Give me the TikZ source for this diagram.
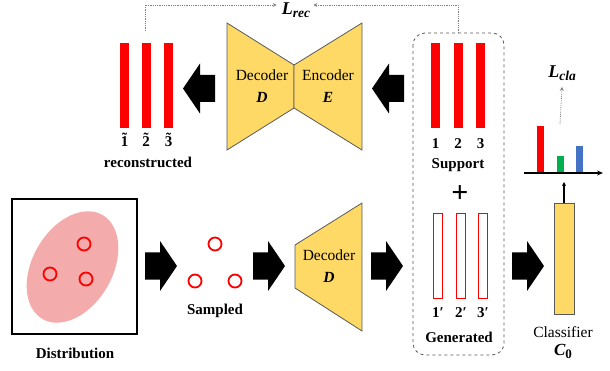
\documentclass[tikz,border=0pt]{standalone}
\usepackage{fontspec}
\setmainfont{Liberation Serif}
\usetikzlibrary{arrows.meta}
\definecolor{myyellow}{HTML}{FFD966}
\definecolor{edgegray}{HTML}{595959}
\definecolor{pinkfill}{HTML}{F4ABAB}
\definecolor{mygreen}{HTML}{00B050}
\definecolor{myblue}{HTML}{4472C4}
\newcommand{\losslabel}[2]{{\fontsize{18}{18}\selectfont #1}\raisebox{-3.5pt}{\fontsize{13.5}{13.5}\selectfont #2}}
\newcommand{\tdig}[1]{\accent"02DC #1}
\tikzset{
  lab/.style={font=\fontsize{15}{17}\selectfont\bfseries, inner sep=0pt},
  txt/.style={font=\fontsize{15.5}{17}\selectfont, inner sep=0pt},
  rbar/.style={fill=red, minimum width=9pt, minimum height=85pt, inner sep=0pt},
  obar/.style={draw=red, line width=1pt, fill=white, minimum width=9pt, minimum height=85pt, inner sep=0pt},
  trap/.style={fill=myyellow, draw=edgegray, line width=0.8pt},
  ring/.style={draw=red, line width=1.8pt, circle, minimum size=13pt, inner sep=0pt},
  dotline/.style={densely dotted, draw=gray, line width=0.8pt},
  blockarrow/.pic={\fill[black] (0,-13.5) -- (15,-13.5) -- (15,-25) -- (32,0) -- (15,25) -- (15,13.5) -- (0,13.5) -- cycle;}
}
\begin{document}
\begin{tikzpicture}[x=1pt,y=-1pt]
\useasboundingbox (0,0) rectangle (610,371);

% ---------- top row ----------
% reconstructed bars
\node[rbar] (r1) at (124.5,85.5) {};
\node[rbar] (r2) at (146,85.5) {};
\node[rbar] (r3) at (168.5,85.5) {};
\node[lab] (rl1) at (124.5,140) {\tdig{1}};
\node[lab] (rl2) at (146,140) {\tdig{2}};
\node[lab] (rl3) at (168.5,140) {\tdig{3}};
\node[lab] (recon) at (148,162) {reconstructed};

\pic at (215,88.5) [xscale=-1] {blockarrow};

% bowtie autoencoder
\filldraw[trap] (227,23) -- (294,65) -- (294,108) -- (227,150) -- cycle;
\filldraw[trap] (362,23) -- (294,65) -- (294,108) -- (362,150) -- cycle;
\node[txt] (dec1) at (262,75) {Decoder};
\node[txt] (dec1D) at (262,97) {\textbf{\textit{D}}};
\node[txt] (enc) at (328,75) {Encoder};
\node[txt] (encE) at (328,97) {\textbf{\textit{E}}};

\pic at (404,88.5) [xscale=-1] {blockarrow};

% dashed group box
\draw[dashed, draw=edgegray, line width=0.8pt, rounded corners=12pt] (413,33) rectangle (504,355);

% support bars
\node[rbar] (s1) at (435.5,85.5) {};
\node[rbar] (s2) at (458,85.5) {};
\node[rbar] (s3) at (480.5,85.5) {};
\node[lab] (sl1) at (435.5,144) {1};
\node[lab] (sl2) at (458,144) {2};
\node[lab] (sl3) at (480.5,144) {3};
\node[lab] (support) at (458,165) {Support};

% L_rec loss
\node[font=\bfseries\itshape, inner sep=0pt] (lrec) at (296,10) {\losslabel{L}{rec}};
\coordinate (recTop) at (145,31);
\coordinate (supTop) at (458,33);
\draw[dotline, -{Stealth[length=4pt,width=4pt]}] (recTop) |- ([xshift=-5pt]lrec.west |- 0,5);
\draw[dotline, -{Stealth[length=4pt,width=4pt]}] (supTop) |- ([xshift=3pt]lrec.east |- 0,5);

% ---------- bottom row ----------
\node[draw=black, line width=1.5pt, minimum width=125pt, minimum height=135pt, inner sep=0pt] (distbox) at (74.5,266.5) {};
\fill[pinkfill, rotate around={60:(72.5,267)}] (72.5,267) ellipse [x radius=60pt, y radius=40pt];
\node[ring] (c1) at (84,244) {};
\node[ring] (c2) at (50,274) {};
\node[ring] (c3) at (86,279) {};
\node[lab] (dist) at (75,353) {Distribution};

\pic at (145,266) {blockarrow};

\node[ring] (sc1) at (215,244) {};
\node[ring] (sc2) at (195,281) {};
\node[ring] (sc3) at (235,281) {};
\node[lab] (sampled) at (215,311) {Sampled};

\pic at (253,266) {blockarrow};

\filldraw[trap] (295,245) -- (362,203) -- (362,331) -- (295,288) -- cycle;
\node[txt] (dec2) at (329,255) {Decoder};
\node[txt] (dec2D) at (329,277) {\textbf{\textit{D}}};

\pic at (371,266) {blockarrow};

\node[font=\fontsize{30}{30}\selectfont\bfseries, inner sep=0pt] (plus) at (460,194) {+};

\node[obar] (g1) at (438,256) {};
\node[obar] (g2) at (461,256) {};
\node[obar] (g3) at (483,256) {};
\node[lab] (gl1) at (438,313) {1′};
\node[lab] (gl2) at (461,313) {2′};
\node[lab] (gl3) at (483,313) {3′};
\node[lab] (generated) at (459,337) {Generated};

\pic at (512,266) {blockarrow};

% classifier
\node[fill=myyellow, draw=edgegray, line width=0.8pt, minimum width=20pt, minimum height=111pt, inner sep=0pt] (cls) at (564,258.5) {};
\node[txt] (clslab) at (563,332) {Classifier};
\node[font=\bfseries, inner sep=0pt] (c0) at (563,351) {{\fontsize{17}{17}\selectfont\itshape C}\raisebox{-3pt}{\fontsize{13}{13}\selectfont 0}};

% chart
\coordinate (axL) at (524,173);
\coordinate (axR) at (603,173);
\draw[line width=1.3pt, -{Stealth[length=6pt,width=5pt]}] (axL) -- (axR);
\node[fill=red, minimum width=7pt, minimum height=46pt, inner sep=0pt, anchor=south] (b1) at (540.5,172.5) {};
\node[fill=mygreen, minimum width=7pt, minimum height=16pt, inner sep=0pt, anchor=south] (b2) at (560,172.5) {};
\node[fill=myblue, minimum width=7pt, minimum height=26pt, inner sep=0pt, anchor=south] (b3) at (579,172.5) {};
\draw[line width=1.2pt, -{Stealth[length=4pt,width=4pt]}] (cls.north) -- (564,182);
\node[font=\bfseries\itshape, inner sep=0pt] (lcla) at (562,73) {\losslabel{L}{cla}};
\coordinate (chartTop) at (560,124);
\draw[dotline, -{Stealth[length=4pt,width=4pt]}] (chartTop) -- ([yshift=-6pt]lcla.south);

\end{tikzpicture}
\end{document}
